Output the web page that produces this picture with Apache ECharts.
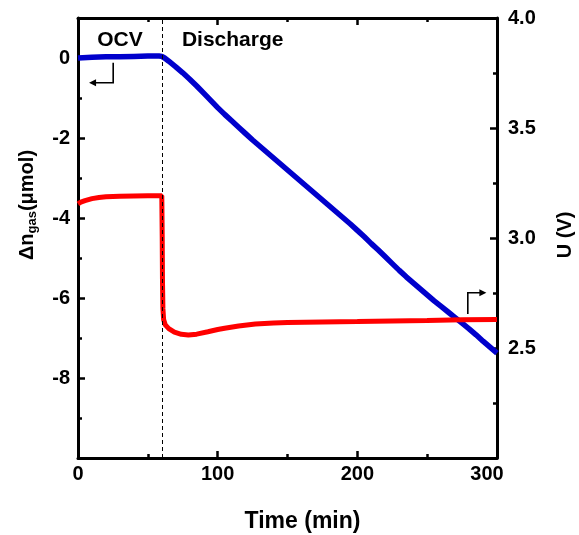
<!DOCTYPE html>
<html><head><meta charset="utf-8">
<script src="https://cdn.jsdelivr.net/npm/echarts@6/dist/echarts.min.js"></script>
<style>html,body{margin:0;padding:0;background:#fff}#c{width:579px;height:535px}</style>
</head><body><div id="c"></div>
<script>
// ---- data ----
const timeBlue = [0,10,20,30,40,50,58,60,62,65,70,75,80,85,90,95,100,105,110,115,120,125,130,135,140,145,150,155,160,165,170,175,180,185,190,195,200,205,210,215,220,225,230,235,240,245,250,255,260,265,270,275,280,285,290,295,300];
const gasBlue = [0.00,0.02,0.03,0.03,0.04,0.05,0.05,0.04,0.00,-0.08,-0.22,-0.37,-0.53,-0.70,-0.88,-1.06,-1.24,-1.41,-1.57,-1.73,-1.89,-2.05,-2.20,-2.35,-2.50,-2.65,-2.80,-2.95,-3.10,-3.25,-3.40,-3.55,-3.70,-3.85,-4.00,-4.15,-4.31,-4.47,-4.64,-4.80,-4.97,-5.14,-5.31,-5.47,-5.62,-5.77,-5.92,-6.07,-6.21,-6.35,-6.49,-6.63,-6.77,-6.92,-7.08,-7.23,-7.38];
const timeRed = [0,2,5,10,15,20,30,40,50,60,60.3,60.5,60.8,61.3,62.5,65,69,74,79,85,93,100,105,115,127,140,150,175,200,225,250,275,300];
const voltRed = [3.155,3.163,3.170,3.179,3.184,3.187,3.190,3.191,3.192,3.192,3.00,2.80,2.68,2.63,2.605,2.588,2.572,2.562,2.559,2.563,2.574,2.584,2.590,2.600,2.609,2.614,2.616,2.618,2.620,2.623,2.625,2.628,2.630];
const xTickLabels = ['0','100','200','300'];
const leftTickLabels = ['-8','-6','-4','-2','0'];
const rightTickLabels = ['2.5','3.0','3.5','4.0'];
const dischargeStart = 60.5;

const FONT = "'Liberation Sans', Arial, Helvetica, sans-serif";
const chart = echarts.init(document.getElementById('c'), null, {renderer: 'canvas'});

const blueData = timeBlue.map((t, i) => [t, gasBlue[i]]);
const redData = timeRed.map((t, i) => [t, voltRed[i]]);

const lbl = {color: '#000', fontSize: 20, fontWeight: 'bold', fontFamily: FONT};
const axLine = {show: true, onZero: false, lineStyle: {color: '#000', width: 3}};
const majorTick = {inside: true, length: 7, lineStyle: {color: '#000', width: 2.5}};
const minorTk = {show: true, splitNumber: 2, length: 4, lineStyle: {color: '#000', width: 2.5}};

const option = {
  animation: false,
  backgroundColor: '#fff',
  grid: [
    {left: 78, right: 82, top: 18, bottom: 77},
    {left: 78, right: 82, top: 18, bottom: 77}
  ],
  xAxis: [
    {type: 'value', gridIndex: 0, position: 'bottom', min: 0, max: 300, interval: 100,
     axisLine: axLine, splitLine: {show: false}, axisTick: majorTick, minorTick: minorTk,
     axisLabel: Object.assign({}, lbl, {margin: 6,
       formatter: v => {const s = String(v); if (!xTickLabels.includes(s)) return ''; return s === '300' ? '{r|300}' : s;},
       rich: {r: Object.assign({}, lbl, {padding: [0, 20, 0, 0]})}})},
    {type: 'value', gridIndex: 0, position: 'top', min: 0, max: 300, interval: 100,
     axisLine: axLine, splitLine: {show: false}, axisTick: majorTick, minorTick: minorTk,
     axisLabel: {show: false}},
    {type: 'value', gridIndex: 1, show: false, min: 0, max: 300, axisLine: {onZero: false}}
  ],
  yAxis: [
    {type: 'value', gridIndex: 0, position: 'left', min: -10, max: 1, interval: 2,
     axisLine: axLine, splitLine: {show: false}, axisTick: majorTick, minorTick: {show: false},
     axisLabel: Object.assign({}, lbl, {margin: 8, showMaxLabel: false,
       formatter: v => leftTickLabels.includes(String(v)) ? String(v) : ''})},
    {type: 'value', gridIndex: 0, position: 'right', min: 2, max: 4, interval: 0.5,
     axisLine: axLine, splitLine: {show: false}, axisTick: majorTick, minorTick: minorTk,
     axisLabel: Object.assign({}, lbl, {margin: 11,
       formatter: v => {const s = Number(v).toFixed(1); return rightTickLabels.includes(s) ? s : '';}})},
    {type: 'value', gridIndex: 1, position: 'left', min: -10, max: 1, interval: 1,
     axisLine: {show: false, onZero: false}, splitLine: {show: false}, axisLabel: {show: false},
     axisTick: {show: true, inside: true, length: 4, lineStyle: {color: '#000', width: 2.5}}}
  ],
  series: [
    {type: 'line', xAxisIndex: 0, yAxisIndex: 0, data: blueData, showSymbol: false,
     lineStyle: {color: '#0000cc', width: 5.5}, itemStyle: {color: '#0000cc'}, z: 3,
     markLine: {silent: true, symbol: ['none', 'none'], label: {show: false},
       lineStyle: {color: '#000', width: 1, type: [4, 3]}, data: [{xAxis: dischargeStart}]}},
    {type: 'line', xAxisIndex: 0, yAxisIndex: 1, data: redData, showSymbol: false,
     lineStyle: {color: '#ff0000', width: 5}, itemStyle: {color: '#ff0000'}, z: 4}
  ]
};
chart.setOption(option);

// annotations positioned through the axes
const pL = (t, v) => chart.convertToPixel({xAxisIndex: 0, yAxisIndex: 0}, [t, v]);
const pR = (t, v) => chart.convertToPixel({xAxisIndex: 0, yAxisIndex: 1}, [t, v]);
const a1 = pL(25.2, -0.12), a2 = pL(25.2, -0.62), a3 = pL(7.9, -0.62);
const b1 = pR(279.1, 2.655), b2 = pR(279.1, 2.751), b3 = pR(292.4, 2.751);
const ocv = pL(30, 0.45), dis = pL(74.4, 0.45);
const head = 7, hw = 3.5;
const txt = (x, y, text, size, align, rot) => ({type: 'text', x, y, rotation: rot || 0,
  style: {text, fill: '#000', font: 'bold ' + size + 'px ' + FONT, align: align || 'center', verticalAlign: 'middle'}});

chart.setOption({graphic: [
  txt(ocv[0], ocv[1], 'OCV', 21, 'center'),
  txt(dis[0], dis[1], 'Discharge', 21, 'left'),
  {type: 'polyline', shape: {points: [a1, a2, [a3[0] + head - 1, a3[1]]]}, style: {stroke: '#000', lineWidth: 1.6, fill: null}},
  {type: 'polygon', shape: {points: [a3, [a3[0] + head, a3[1] - hw], [a3[0] + head, a3[1] + hw]]}, style: {fill: '#000'}},
  {type: 'polyline', shape: {points: [b1, b2, [b3[0] - head + 1, b3[1]]]}, style: {stroke: '#000', lineWidth: 1.6, fill: null}},
  {type: 'polygon', shape: {points: [b3, [b3[0] - head, b3[1] - hw], [b3[0] - head, b3[1] + hw]]}, style: {fill: '#000'}},
  txt(302.5, 521.5, 'Time (min)', 23, 'center'),
  {type: 'text', x: 27, y: 205, rotation: Math.PI / 2,
   style: {text: '{a|Δn}{b|gas}{a|(μmol)}', align: 'center', verticalAlign: 'middle', fill: '#000',
     rich: {a: {fontSize: 20, fontWeight: 'bold', fontFamily: FONT, lineHeight: 24, fill: '#000'},
            b: {fontSize: 13, fontWeight: 'bold', fontFamily: FONT, lineHeight: 14, verticalAlign: 'bottom', fill: '#000'}}}},
  txt(565, 235, 'U (V)', 20, 'center', Math.PI / 2)
]});
</script></body></html>
